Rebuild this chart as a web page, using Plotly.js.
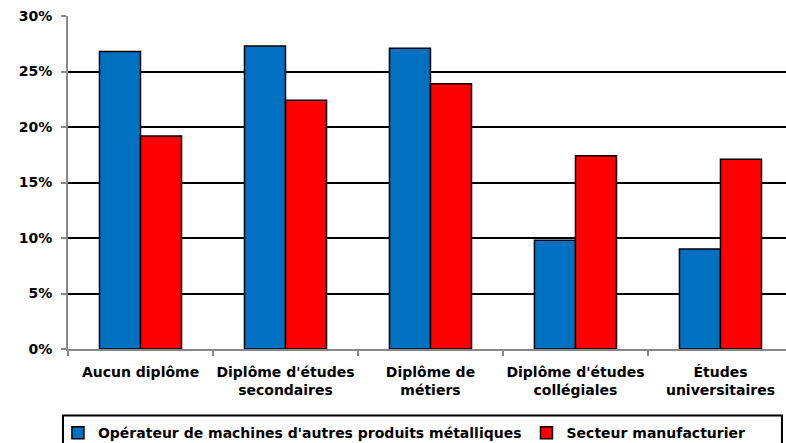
<!DOCTYPE html>
<html>
<head>
<meta charset="utf-8">
<script src="https://cdn.plot.ly/plotly-3.0.1.min.js"></script>
<style>html,body{margin:0;padding:0;background:#fff;}#chart{width:786px;height:443px;}</style>
</head>
<body>
<div id="chart"></div>
<script>
const categories = ["Aucun diplôme", "Diplôme d'études<br>secondaires", "Diplôme de<br>métiers", "Diplôme d'études<br>collégiales", "Études<br>universitaires"];
const seriesNames = ["Opérateur de machines d'autres produits métalliques", "Secteur manufacturier"];
const operateurValues = [26.8, 27.3, 27.1, 9.8, 9.0];
const secteurValues = [19.2, 22.4, 23.9, 17.4, 17.1];
const yTicks = [0, 5, 10, 15, 20, 25, 30];
const yTickLabels = ["0%", "5%", "10%", "15%", "20%", "25%", "30%"];

const font = {family: "DejaVu Sans, Verdana, sans-serif", size: 14, color: "#000", weight: 700};

const traces = [
  {type: "bar", x: categories, y: operateurValues, name: seriesNames[0],
   marker: {color: "#0070C0", line: {color: "#000", width: 1.5}}},
  {type: "bar", x: categories, y: secteurValues, name: seriesNames[1],
   marker: {color: "#FF0000", line: {color: "#000", width: 1.5}}}
];

const layout = {
  width: 786, height: 443,
  margin: {l: 68, r: 0, t: 16, b: 94, pad: 0, autoexpand: false},
  paper_bgcolor: "#fff", plot_bgcolor: "#fff",
  font: font,
  barmode: "group",
  bargap: 0.434,
  bargroupgap: 0,
  showlegend: true,
  xaxis: {
    type: "category",
    range: [-0.5, 4.452],
    showline: true, linecolor: "#888", linewidth: 2,
    ticks: "outside", tickson: "boundaries", ticklen: 5, tickcolor: "#888", tickwidth: 2,
    tickangle: 0,
    ticklabelstandoff: 9,
    showgrid: false, zeroline: false,
    tickfont: font,
    automargin: false,
    fixedrange: true
  },
  yaxis: {
    range: [0, 30],
    tickmode: "array",
    tickvals: yTicks,
    ticktext: yTickLabels,
    showline: true, linecolor: "#888", linewidth: 2,
    ticks: "outside", ticklen: 5, tickcolor: "#888", tickwidth: 2,
    showgrid: true, gridcolor: "#000", gridwidth: 2,
    zeroline: false,
    tickfont: font,
    ticklabelstandoff: 6,
    automargin: false,
    fixedrange: true
  },
  legend: {
    orientation: "h",
    x: -0.014, xanchor: "left",
    y: -0.205, yanchor: "top",
    bgcolor: "rgba(0,0,0,0)",
    borderwidth: 0,
    font: font,
    traceorder: "normal"
  },
  shapes: [
    {type: "rect", xref: "paper", yref: "paper",
     x0: -0.007, x1: 0.9944, y0: -0.2, y1: -0.31,
     line: {color: "#000", width: 2}, fillcolor: "rgba(0,0,0,0)", layer: "below"}
  ]
};

Plotly.newPlot("chart", traces, layout, {displayModeBar: false, staticPlot: true});
</script>
</body>
</html>
